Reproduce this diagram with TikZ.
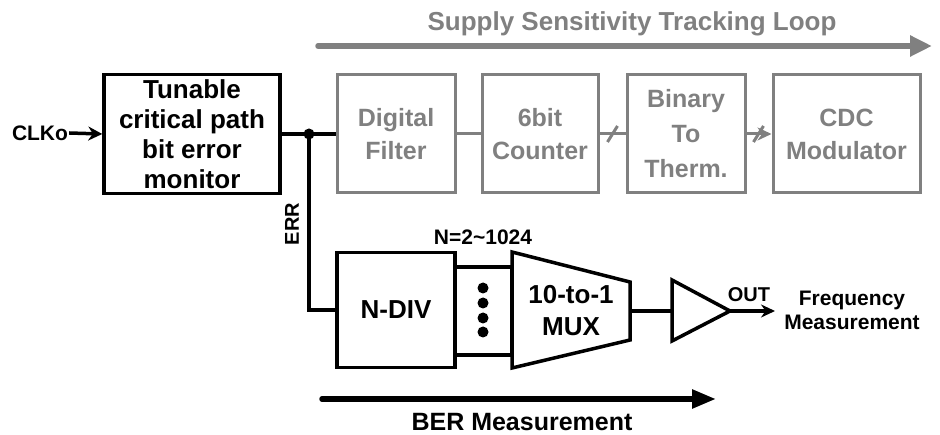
\documentclass[tikz,border=0pt]{standalone}
\usepackage{fontspec}
\setmainfont{Liberation Sans}
\usetikzlibrary{arrows.meta,calc}
\definecolor{lg}{RGB}{128,128,128}
\begin{document}
\begin{tikzpicture}[x=1pt,y=-1pt,
  blk/.style={draw,line width=3.5pt,rectangle,inner sep=0pt,align=center,font=\bfseries\fontsize{26}{30}\selectfont},
  gblk/.style={draw=lg,text=lg,line width=3pt,rectangle,inner sep=0pt,align=center,font=\bfseries\fontsize{25}{33}\selectfont},
  wire/.style={line width=3.5pt},
  gwire/.style={draw=lg,line width=3pt},
  lbl/.style={inner sep=1pt,align=center,font=\bfseries\fontsize{21}{24}\selectfont},
  big/.style={line width=5.5pt,line cap=round},
]
\useasboundingbox (0,0) rectangle (940,435);
% title and loop arrow
\node[lbl,text=lg,font=\bfseries\fontsize{26}{30}\selectfont] (title) at (632,24) {Supply Sensitivity Tracking Loop};
\coordinate (la) at (318,46);
\coordinate (lb) at (932,46);
\draw[big,lg,-{Triangle[length=22pt,width=20pt]}] (la) -- (lb);
% monitor
\node[blk,minimum width=176pt,minimum height=119pt] (tcm) at (192,134) {Tunable\\critical path\\bit error\\monitor};
\node[lbl] (clk) at (40,133) {CLKo};
\draw[wire,-{Stealth[length=14pt,width=14pt]}] (clk.east) -- (tcm.west);
% top chain
\node[gblk,minimum width=118pt,minimum height=118pt] (df) at (396,134) {Digital\\Filter};
\node[gblk,minimum width=116pt,minimum height=118pt] (cnt) at (540,134) {6bit\\Counter};
\node[gblk,minimum width=118pt,minimum height=118pt,font=\bfseries\fontsize{25}{35}\selectfont] (b2t) at (686,134) {Binary\\To\\Therm.};
\node[gblk,minimum width=147pt,minimum height=118pt] (cdc) at (846.5,134) {CDC\\Modulator};
\coordinate (j) at (309,134);
\draw[wire] (tcm.east) -- (df.west);
\fill (j) circle (5.5pt);
\draw[gwire] (df.east) -- (cnt.west);
\draw[gwire] (cnt.east) -- (b2t.west);
\draw[gwire,line width=3pt] ($(cnt.east)!0.5!(b2t.west)+(-5,8)$) -- ++(10,-16);
\draw[gwire,-{Stealth[length=14pt,width=13pt]}] (b2t.east) -- (cdc.west);
\draw[gwire,line width=3pt] ($(b2t.east)+(7,8)$) -- ++(10,-16);
% lower chain
\node[blk,minimum width=118pt,minimum height=115pt] (ndiv) at (396,310) {N-DIV};
\node[draw,line width=3.5pt,rectangle,inner sep=0pt,minimum width=57pt,minimum height=88pt] (bus) at (483.5,311) {};
\foreach \yy in {288,303,318,332} \fill (483,\yy) circle (5.5pt);
\draw[wire,line join=miter] (512,252) -- (630,282) -- (630,340) -- (512,368) -- cycle;
\node[blk,draw=none,font=\bfseries\fontsize{26}{32}\selectfont] (mux) at (571,311) {10-to-1\\MUX};
\coordinate (muxo) at (630,311);
\draw[wire,line join=miter] (672,280) -- (730,311) -- (672,341) -- cycle;
\coordinate (bufi) at (672,311);
\coordinate (bufo) at (730,311);
\draw[wire] (muxo) -- (bufi);
\node[lbl,font=\bfseries\fontsize{20}{24}\selectfont] (out) at (749,295) {OUT};
\node[lbl] (fm) at (852,310) {Frequency\\Measurement};
\coordinate (fmin) at (775,311);
\draw[wire,-{Stealth[length=14pt,width=13pt]}] (bufo) -- (fmin);
\draw[wire] (j) |- (ndiv.west);
\node[lbl,rotate=90,font=\bfseries\fontsize{20}{24}\selectfont] (err) at (292,224) {ERR};
\node[lbl] (nval) at (483,237) {N=2\textasciitilde 1024};
% BER arrow
\coordinate (ba) at (322,399);
\coordinate (bb) at (716,399);
\draw[big,-{Triangle[length=24pt,width=18pt]}] (ba) -- (bb);
\node[lbl,font=\bfseries\fontsize{25}{30}\selectfont] (ber) at (522,422) {BER Measurement};
\end{tikzpicture}
\end{document}
